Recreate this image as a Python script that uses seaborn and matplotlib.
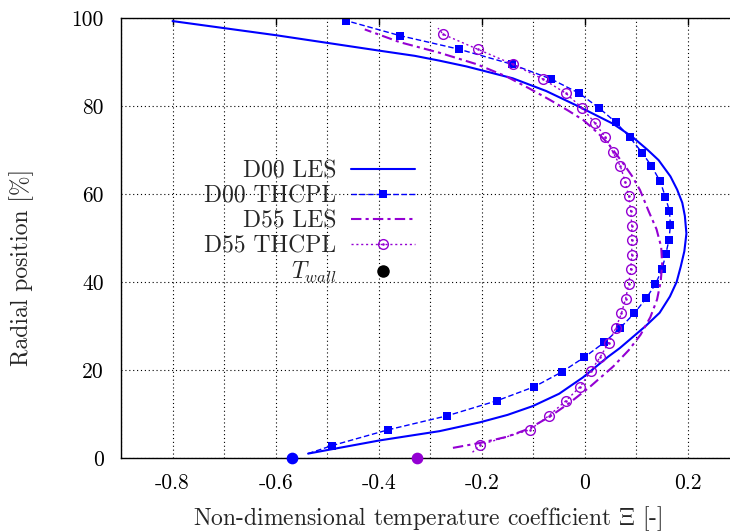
import matplotlib
matplotlib.use("Agg")
import matplotlib.pyplot as plt
import seaborn as sns
from matplotlib.lines import Line2D
from matplotlib.path import Path
from matplotlib.ticker import MultipleLocator

# D00 LES (solid)
d00_les_x = [-0.537, -0.398, -0.282, -0.204, -0.150, -0.101, -0.050, -0.004,
             0.022, 0.045, 0.068, 0.093, 0.118, 0.145, 0.165, 0.178, 0.186, 0.193,
             0.197, 0.194, 0.189, 0.179, 0.166, 0.143, 0.122, 0.092, 0.054, -0.014,
             -0.075, -0.140, -0.230, -0.282, -0.330, -0.400, -0.600, -0.800]
d00_les_y = [1.0, 4.0, 6.1, 8.1, 9.8, 11.8, 14.6, 18.3,
             20.8, 23.0, 25.0, 27.5, 30.0, 33.0, 36.7, 40.0, 43.5, 47.0,
             51.0, 55.0, 58.0, 61.0, 64.0, 67.7, 70.0, 73.0, 76.0, 80.0,
             83.4, 86.3, 89.0, 90.3, 91.4, 92.6, 96.1, 99.3]

# D00 THCPL (dashed, squares) - first point is line only
d00_th_x = [-0.537, -0.491, -0.382, -0.267, -0.171, -0.098, -0.044, -0.001, 0.038, 0.068,
            0.096, 0.119, 0.137, 0.150, 0.157, 0.163, 0.166, 0.164, 0.156, 0.146,
            0.129, 0.111, 0.087, 0.060, 0.028, -0.011, -0.065, -0.142, -0.244, -0.359,
            -0.463]
d00_th_y = [1.0, 2.8, 6.4, 9.6, 13.0, 16.2, 19.6, 22.9, 26.3, 29.5,
            32.9, 36.3, 39.5, 43.0, 46.3, 49.5, 52.9, 56.2, 59.4, 62.9,
            66.4, 69.4, 72.9, 76.3, 79.5, 82.9, 86.1, 89.5, 92.9, 96.0,
            99.4]

# D55 LES (dash-dot)
d55_les_x = [-0.256, -0.200, -0.152, -0.110, -0.068, -0.030, 0.010, 0.055, 0.085, 0.108,
             0.127, 0.140, 0.147, 0.150, 0.148, 0.139, 0.124, 0.107, 0.092, 0.074,
             0.045, 0.024, -0.003, -0.033, -0.068, -0.108, -0.152, -0.210, -0.282, -0.359,
             -0.427]
d55_les_y = [2.3, 3.5, 4.8, 6.6, 9.4, 12.5, 16.2, 20.8, 24.5, 28.0,
             32.0, 36.0, 40.0, 44.0, 48.0, 52.0, 56.0, 60.9, 64.0, 67.0,
             71.5, 74.0, 76.8, 79.0, 81.4, 84.0, 86.7, 89.5, 92.1, 94.5,
             97.4]

# D55 THCPL (dotted, circles) - first and last points are line only
d55_th_x = [-0.218, -0.203, -0.107, -0.070, -0.037, -0.009, 0.011, 0.030, 0.046, 0.060,
            0.071, 0.079, 0.085, 0.089, 0.091, 0.091, 0.091, 0.089, 0.085, 0.078,
            0.069, 0.054, 0.040, 0.019, -0.005, -0.037, -0.081, -0.140, -0.208, -0.275,
            -0.285]
d55_th_y = [1.3, 3.0, 6.4, 9.6, 13.0, 16.2, 19.7, 23.0, 26.2, 29.5,
            32.9, 36.2, 39.5, 43.0, 46.2, 49.5, 52.8, 56.1, 59.5, 62.8,
            66.3, 69.6, 72.9, 76.2, 79.5, 82.9, 86.1, 89.5, 92.9, 96.3,
            97.7]

# wall temperature points
twall_x = [-0.568, -0.326]
twall_y = [0.0, 0.0]

x_ticks = [-0.8, -0.6, -0.4, -0.2, 0.0, 0.2]
x_ticklabels = ["-0.8", "-0.6", "-0.4", "-0.2", "0", "0.2"]
y_ticks = [0, 20, 40, 60, 80, 100]
y_ticklabels = ["0", "20", "40", "60", "80", "100"]

blue = "#0000ff"
purple = "#9400d3"

sns.set_style("white")
plt.rcParams["font.family"] = ["cmr10", "DejaVu Serif"]
plt.rcParams["mathtext.fontset"] = "cm"
plt.rcParams["axes.unicode_minus"] = False

fig = plt.figure(figsize=(7.3, 5.31), dpi=100)
ax = fig.add_axes([121 / 730, 73 / 531, 618.5 / 730, 440 / 531])

# circle with a dot in the middle
odot = Path.make_compound_path(Path.unit_circle(),
                               Path.circle((0, 0), 0.12))

sns.lineplot(x=d00_les_x, y=d00_les_y, sort=False, estimator=None, ax=ax,
             color=blue, lw=1.5, label="D00 LES")
sns.lineplot(x=d00_th_x, y=d00_th_y, sort=False, estimator=None, ax=ax,
             color=blue, lw=1.0, dashes=(4, 2), marker="s", markersize=5.5,
             markeredgewidth=0, markevery=slice(1, None), label="D00 THCPL")
sns.lineplot(x=d55_les_x, y=d55_les_y, sort=False, estimator=None, ax=ax,
             color=purple, lw=1.5, dashes=(5, 2, 1.5, 2), label="D55 LES")
sns.lineplot(x=d55_th_x, y=d55_th_y, sort=False, estimator=None, ax=ax,
             color=purple, lw=1.0, dashes=(1.5, 2), marker=odot, markersize=7,
             markerfacecolor="none", markeredgecolor=purple, markeredgewidth=1,
             markevery=slice(1, -1), label="D55 THCPL")

ax.scatter(twall_x[:1], twall_y[:1], s=55, color=blue, zorder=5, clip_on=False)
ax.scatter(twall_x[1:], twall_y[1:], s=55, color=purple, zorder=5, clip_on=False)

ax.set_xlim(-0.9, 0.3)
ax.set_ylim(0, 100)
ax.set_xticks(x_ticks)
ax.set_xticklabels(x_ticklabels)
ax.xaxis.set_minor_locator(MultipleLocator(0.1))
ax.set_yticks(y_ticks)
ax.set_yticklabels(y_ticklabels)

ax.grid(True, which="both", axis="x", color="black", lw=0.8, ls=(0, (1, 2.5)))
ax.grid(True, which="major", axis="y", color="black", lw=0.8, ls=(0, (1, 2.5)))

ax.tick_params(which="major", direction="in", length=5, width=1, top=True,
               right=False, labelsize=15.5, colors="black")
ax.tick_params(axis="x", which="major", pad=11)
ax.tick_params(axis="y", which="major", pad=12.5)
ax.tick_params(which="minor", direction="in", length=0, top=True)
for side in ["left", "bottom", "top"]:
    ax.spines[side].set_color("black")
    ax.spines[side].set_linewidth(1.0)
ax.spines["right"].set_visible(False)

ax.set_xlabel(r"Non-dimensional temperature coefficient $\Xi$ [-]", fontsize=17)
ax.set_ylabel("Radial position [%]", fontsize=17)
ax.xaxis.set_label_coords(0.496, -0.104)
ax.yaxis.set_label_coords(-0.141, 0.434)

handles, labels = ax.get_legend_handles_labels()
handles = handles[:4]
labels = labels[:4]
handles.append(Line2D([], [], ls="none", marker="o", markersize=8, color="black"))
labels.append(r"$T_{wall}$")
leg = ax.legend(handles, labels, loc="center right", frameon=False,
                markerfirst=False, fontsize=17, handlelength=2.7,
                handletextpad=0.64, labelspacing=0.12, borderpad=0,
                bbox_to_anchor=(427 / 730, 1 - 222.5 / 531),
                bbox_transform=fig.transFigure)

fig.savefig("out.png", dpi=100)
